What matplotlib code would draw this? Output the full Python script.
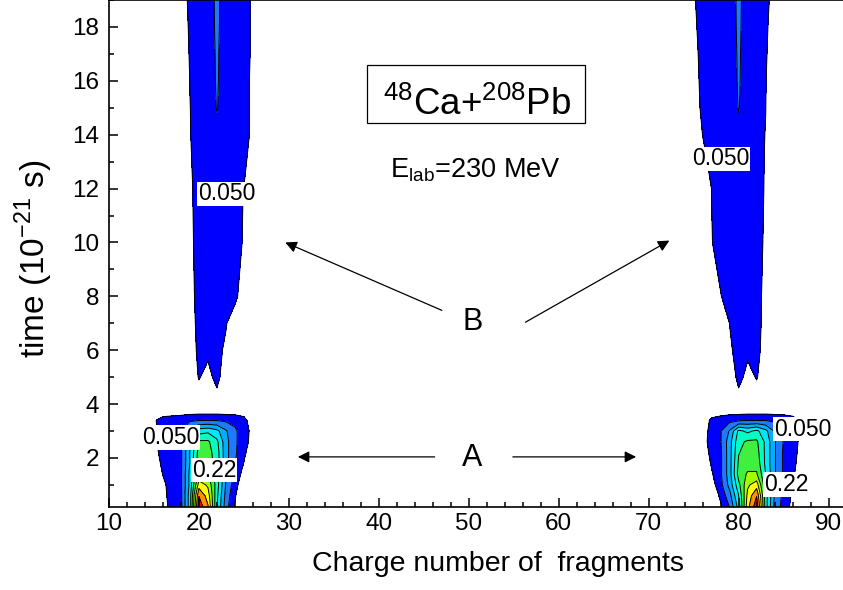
import matplotlib.pyplot as plt
from matplotlib.ticker import MultipleLocator

plt.rcParams['font.family'] = ['Liberation Sans', 'DejaVu Sans']
plt.rcParams['mathtext.fontset'] = 'custom'
plt.rcParams['mathtext.rm'] = 'Liberation Sans'

# contour levels and fill colours (blue -> red)
levels = [0.05, 0.0925, 0.135, 0.1775, 0.22, 0.2625, 0.305, 0.3475, 0.39, 0.4325, 0.475]
band_colors = ['#0000ff', '#1f78ff', '#00b0ff', '#00e8ff', '#00ffc0',
               '#40f040', '#a0ff00', '#ffff00', '#ff9000', '#ff0000']

# --- region A (quasi-elastic, short times) ---
time_A = [0.1, 0.6, 1.0, 1.4, 1.8, 2.2, 2.6, 3.0, 3.4, 3.8]

charge_left_A = [14, 15, 16, 17, 18, 19, 20, 21, 22, 23, 24, 25, 26, 27]
yield_left_A = [
    [0, 0, 0.030, 0.065, 0.080, 0.20, 0.47, 0.40, 0.22, 0.11, 0.045, 0, 0, 0],
    [0, 0, 0.035, 0.070, 0.083, 0.20, 0.43, 0.37, 0.23, 0.12, 0.055, 0, 0, 0],
    [0, 0, 0.040, 0.070, 0.085, 0.19, 0.37, 0.34, 0.24, 0.13, 0.070, 0.010, 0, 0],
    [0, 0.010, 0.052, 0.070, 0.085, 0.19, 0.31, 0.31, 0.24, 0.14, 0.085, 0.030, 0, 0],
    [0, 0.025, 0.060, 0.075, 0.085, 0.18, 0.29, 0.29, 0.24, 0.15, 0.095, 0.048, 0, 0],
    [0, 0.035, 0.065, 0.075, 0.085, 0.18, 0.28, 0.28, 0.24, 0.15, 0.100, 0.060, 0.015, 0],
    [0, 0.040, 0.070, 0.075, 0.090, 0.17, 0.27, 0.27, 0.23, 0.15, 0.100, 0.070, 0.030, 0],
    [0, 0.040, 0.070, 0.075, 0.090, 0.15, 0.20, 0.21, 0.19, 0.14, 0.100, 0.070, 0.035, 0],
    [0, 0.045, 0.065, 0.070, 0.075, 0.085, 0.090, 0.090, 0.090, 0.085, 0.080, 0.065, 0.020, 0],
    [0, 0.010, 0.020, 0.020, 0.020, 0.020, 0.020, 0.020, 0.020, 0.020, 0.020, 0.020, 0, 0],
]

charge_right_A = [75, 76, 77, 78, 79, 80, 81, 82, 83, 84, 85, 86, 87, 88]
yield_right_A = [
    [0, 0, 0, 0.040, 0.090, 0.19, 0.38, 0.47, 0.24, 0.12, 0.075, 0.035, 0, 0],
    [0, 0, 0.010, 0.060, 0.12, 0.22, 0.36, 0.43, 0.24, 0.13, 0.080, 0.042, 0, 0],
    [0, 0, 0.030, 0.080, 0.15, 0.25, 0.34, 0.37, 0.23, 0.13, 0.085, 0.052, 0.005, 0],
    [0, 0, 0.045, 0.085, 0.16, 0.28, 0.31, 0.31, 0.22, 0.14, 0.085, 0.060, 0.015, 0],
    [0, 0.015, 0.055, 0.085, 0.16, 0.27, 0.29, 0.29, 0.21, 0.14, 0.085, 0.065, 0.025, 0],
    [0, 0.030, 0.060, 0.085, 0.16, 0.26, 0.28, 0.28, 0.21, 0.14, 0.085, 0.070, 0.030, 0],
    [0, 0.035, 0.065, 0.090, 0.16, 0.25, 0.27, 0.27, 0.21, 0.14, 0.090, 0.072, 0.035, 0],
    [0, 0.030, 0.065, 0.090, 0.14, 0.23, 0.21, 0.23, 0.19, 0.13, 0.090, 0.072, 0.040, 0],
    [0, 0.020, 0.060, 0.070, 0.080, 0.085, 0.090, 0.090, 0.090, 0.085, 0.080, 0.068, 0.045, 0],
    [0, 0, 0.015, 0.020, 0.020, 0.020, 0.020, 0.020, 0.020, 0.020, 0.020, 0.020, 0.012, 0],
]

# --- region B (deep-inelastic, long times) ---
time_B = [4.2, 5.0, 6.0, 7.0, 8.0, 10.0, 12.0, 13.0, 14.0, 15.0, 16.0, 17.0, 18.0, 19.0, 19.5]

charge_left_B = [17, 18, 19, 20, 21, 22, 23, 24, 25, 26, 27]
yield_left_B = [
    [0, 0, 0, 0.030, 0.020, 0.035, 0, 0, 0, 0, 0],
    [0, 0, 0.020, 0.053, 0.035, 0.065, 0.020, 0, 0, 0, 0],
    [0, 0, 0.003, 0.070, 0.060, 0.070, 0.037, 0, 0, 0, 0],
    [0, 0, 0.020, 0.070, 0.070, 0.075, 0.055, 0.005, 0, 0, 0],
    [0, 0, 0.030, 0.070, 0.072, 0.078, 0.072, 0.070, 0.003, 0, 0],
    [0, 0, 0.037, 0.070, 0.072, 0.080, 0.075, 0.070, 0.045, 0, 0],
    [0, 0, 0.041, 0.070, 0.073, 0.082, 0.075, 0.070, 0.048, 0, 0],
    [0, 0, 0.045, 0.070, 0.074, 0.084, 0.075, 0.072, 0.070, 0.003, 0],
    [0, 0, 0.048, 0.070, 0.075, 0.086, 0.075, 0.072, 0.070, 0.037, 0],
    [0, 0, 0.049, 0.072, 0.075, 0.094, 0.075, 0.072, 0.070, 0.037, 0],
    [0, 0, 0.051, 0.072, 0.075, 0.096, 0.075, 0.072, 0.070, 0.037, 0],
    [0, 0, 0.056, 0.072, 0.075, 0.097, 0.075, 0.072, 0.070, 0.041, 0],
    [0, 0, 0.062, 0.072, 0.075, 0.099, 0.075, 0.072, 0.070, 0.041, 0],
    [0, 0.003, 0.070, 0.072, 0.075, 0.100, 0.075, 0.072, 0.070, 0.041, 0],
    [0, 0.020, 0.070, 0.072, 0.075, 0.101, 0.075, 0.072, 0.070, 0.041, 0],
]

charge_right_B = [74, 75, 76, 77, 78, 79, 80, 81, 82, 83, 84, 85]
yield_right_B = [
    [0, 0, 0, 0, 0, 0, 0.035, 0.020, 0.030, 0, 0, 0],
    [0, 0, 0, 0, 0, 0.015, 0.065, 0.035, 0.053, 0.023, 0, 0],
    [0, 0, 0, 0, 0, 0.041, 0.070, 0.060, 0.070, 0.020, 0, 0],
    [0, 0, 0, 0, 0, 0.051, 0.072, 0.070, 0.070, 0.030, 0, 0],
    [0, 0, 0, 0, 0.048, 0.070, 0.075, 0.072, 0.070, 0.033, 0, 0],
    [0, 0, 0, 0.048, 0.070, 0.072, 0.078, 0.072, 0.070, 0.041, 0, 0],
    [0, 0, 0, 0.051, 0.070, 0.072, 0.082, 0.073, 0.070, 0.045, 0, 0],
    [0, 0, 0.030, 0.070, 0.070, 0.072, 0.084, 0.073, 0.070, 0.046, 0, 0],
    [0, 0, 0.051, 0.070, 0.070, 0.072, 0.086, 0.075, 0.070, 0.048, 0, 0],
    [0, 0.003, 0.070, 0.070, 0.070, 0.075, 0.094, 0.075, 0.070, 0.051, 0, 0],
    [0, 0.020, 0.070, 0.070, 0.070, 0.075, 0.096, 0.075, 0.070, 0.053, 0, 0],
    [0, 0.030, 0.070, 0.070, 0.072, 0.075, 0.097, 0.075, 0.070, 0.059, 0, 0],
    [0, 0.039, 0.070, 0.070, 0.072, 0.075, 0.099, 0.075, 0.070, 0.067, 0, 0],
    [0, 0.045, 0.070, 0.070, 0.072, 0.075, 0.100, 0.075, 0.070, 0.070, 0.020, 0],
    [0, 0.048, 0.070, 0.070, 0.072, 0.075, 0.101, 0.075, 0.070, 0.070, 0.026, 0],
]

# contour-label text and where it sits (charge, time)
contour_labels = ['0.050', '0.22', '0.050', '0.22', '0.050', '0.050']
label_charge = [16.9, 21.7, 87.1, 85.3, 23.1, 78.0]
label_time = [2.76, 1.55, 3.07, 1.02, 11.8, 13.1]

# arrows: (tail charge, tail time) -> (head charge, head time)
arrow_tails = [(47.0, 7.48), (56.3, 7.04), (46.2, 2.04), (54.9, 2.04)]
arrow_heads = [(29.6, 10.0), (72.3, 10.07), (31.0, 2.04), (68.6, 2.04)]

fig = plt.figure(figsize=(8.43, 5.90), dpi=100)
ax = fig.add_axes([109 / 843, 83 / 590, 734 / 843, 507 / 590])

regions = [
    (charge_left_A, time_A, yield_left_A),
    (charge_right_A, time_A, yield_right_A),
    (charge_left_B, time_B, yield_left_B),
    (charge_right_B, time_B, yield_right_B),
]
for zc, tt, yy in regions:
    ax.contourf(zc, tt, yy, levels=levels, colors=band_colors, zorder=1)
    ax.contour(zc, tt, yy, levels=levels, colors='k', linewidths=0.7, zorder=2)

for txt, xc, yc in zip(contour_labels, label_charge, label_time):
    ax.text(xc, yc, txt, fontsize=16.5, ha='center', va='center', zorder=5,
            bbox=dict(facecolor='white', edgecolor='none', pad=0.5))

for tail, head in zip(arrow_tails, arrow_heads):
    ax.annotate('', xy=head, xytext=tail,
                arrowprops=dict(arrowstyle='-|>', color='k', lw=0.9,
                                mutation_scale=17, shrinkA=0, shrinkB=0))

ax.text(50.4, 7.04, 'B', fontsize=22, ha='center', va='center')
ax.text(50.4, 2.0, 'A', fontsize=22, ha='center', va='center')

ax.text(50.9, 14.74, r'$^{\mathregular{48}}$Ca+$^{\mathregular{208}}$Pb',
        fontsize=26.5, ha='center', va='baseline')
ax.add_patch(plt.Rectangle((38.7, 14.44), 24.2, 2.15, fill=False,
                           edgecolor='k', lw=0.9, zorder=4))
ax.text(50.7, 12.4, r'E$_{\mathregular{lab}}$=230 MeV', fontsize=19.5,
        ha='center', va='baseline')

ax.set_xlim(10, 91.6)
ax.set_ylim(0.18, 19.0)
ax.xaxis.set_major_locator(MultipleLocator(10))
ax.xaxis.set_minor_locator(MultipleLocator(2))
ax.yaxis.set_major_locator(MultipleLocator(2))
ax.yaxis.set_minor_locator(MultipleLocator(1))
ax.tick_params(which='both', direction='in', width=1.1, labelsize=17.5)
ax.tick_params(which='major', length=6.5)
ax.tick_params(which='minor', length=3.6)
ax.tick_params(axis='x', pad=4.5)
ax.tick_params(axis='y', pad=7)
ax.spines['right'].set_visible(False)
for side in ['left', 'bottom', 'top']:
    ax.spines[side].set_linewidth(1.2)

ax.set_xlabel('Charge number of  fragments', fontsize=20.5)
ax.xaxis.set_label_coords(0.53, -0.087)
ax.set_ylabel(r'time (10$^{\mathregular{-21}}$ s)', fontsize=24)
ax.yaxis.set_label_coords(-0.074, 0.49)

fig.savefig('out.png', dpi=100)
